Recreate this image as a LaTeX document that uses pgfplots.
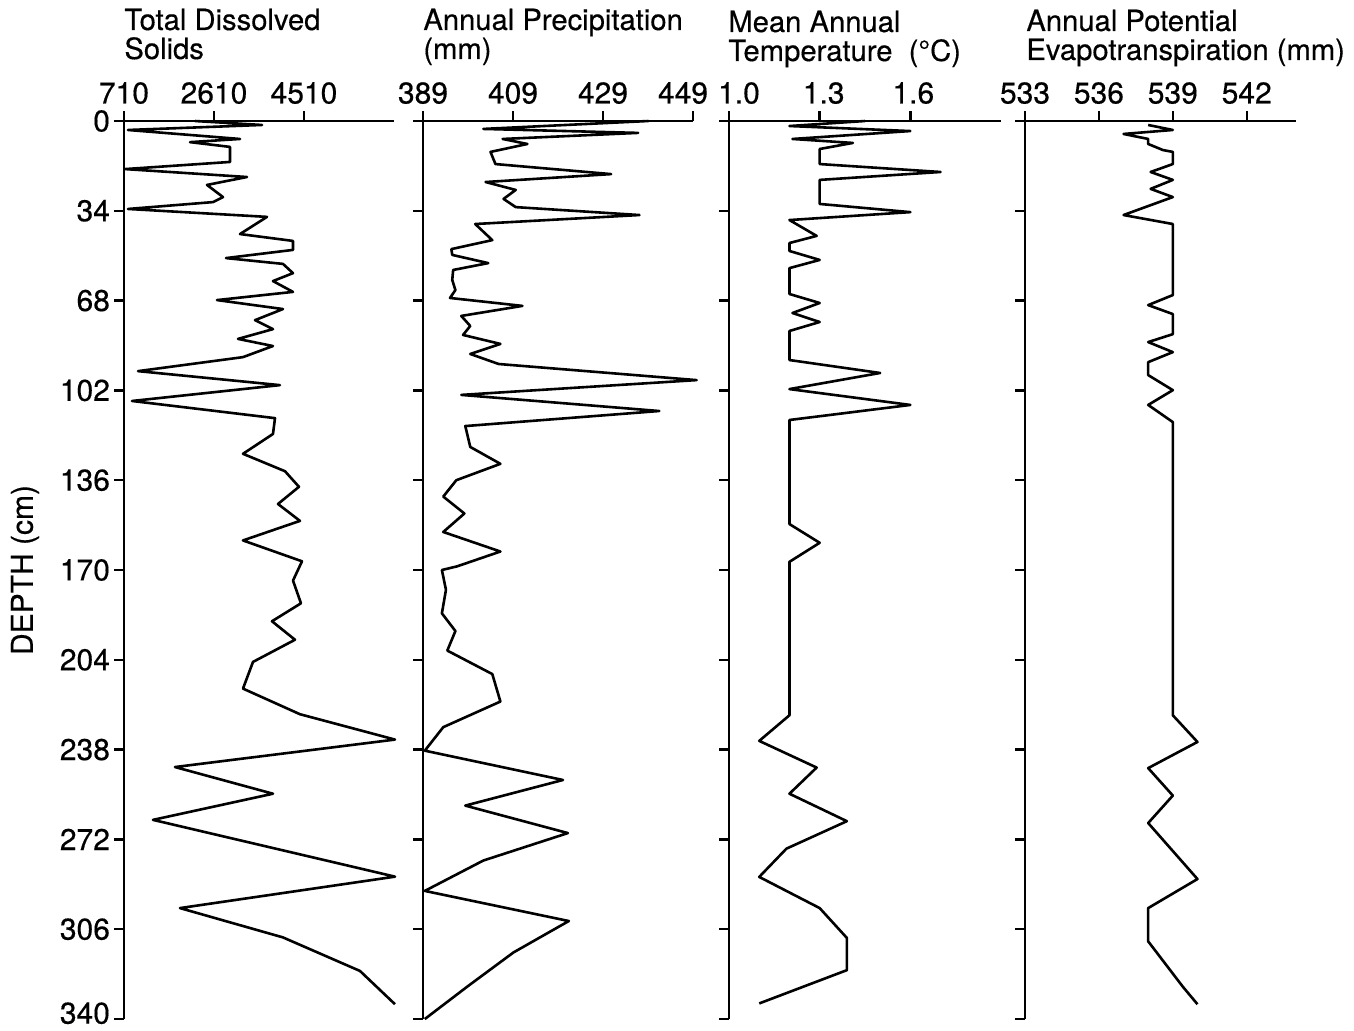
\documentclass[border=0pt]{standalone}
\usepackage{fontspec}
\setmainfont{TeX Gyre Heros}[FakeBold=0.4]
\usepackage{pgfplots}
\pgfplotsset{compat=1.18}

\newcommand{\ttl}{\fontsize{14.6}{15}\selectfont}
\newcommand{\tkl}{\fontsize{15}{15}\selectfont}

\pgfplotsset{
  core/.style={
    scale only axis, height=449pt,
    ymin=0, ymax=340, y dir=reverse,
    axis x line*=top, axis y line*=left,
    axis line style={line width=1.2pt, -},
    tick align=outside,
    major tick length=5pt,
    every tick/.style={line width=1.2pt, black},
    ytick={0,34,68,102,136,170,204,238,272,306,340},
    yticklabels={},
    tick label style={font=\tkl},
    yticklabel style={xshift=1.5pt, inner ysep=0pt},
    clip=false,
    enlargelimits=false,
  },
  trace/.style={black, line width=1.3pt, line join=round, mark=none},
}

\begin{document}
\begin{tikzpicture}[x=1pt,y=1pt]
\useasboundingbox (0,-1.5) rectangle (677,513.5);

% Total dissolved solids
\begin{axis}[core, at={(62pt,453pt)}, anchor=north west, width=135pt,
  xmin=710, xmax=6410, xtick={710,2610,4510}, xticklabels={710,2610,4510},
  yticklabels={0,34,68,102,136,170,204,238,272,306,\raisebox{3pt}[\height][0pt]{340}}]
\addplot[trace] coordinates {
(2209,0) (3623,1.5) (794,3.4) (3159,6.8) (2103,8.0) (2948,9.8) (2948,15.5)
(731,18.2) (3307,21.2) (2462,24.2) (2800,28.8) (2589,30.7) (794,33.3)
(3729,36.3) (3159,42.8) (4278,45.4) (4278,48.8) (2863,51.9) (4066,54.1)
(4278,57.6) (3855,60.6) (4278,64.7) (2673,67.8) (4066,71.2) (3475,75.4)
(3855,78.8) (3117,82.5) (3855,85.2) (3222,89.4) (1006,94.7) (4003,100.0)
(879,106.0) (3898,112.5) (3855,118.5) (3222,126) (4109,132.6) (4404,138.5)
(3961,145) (4425,151.4) (3222,158.8) (4468,166.7) (4278,174) (4446,182.6)
(3834,189.4) (4320,196.4) (3433,204.8) (3222,214.9) (4425,224.6) (6431,234.2)
(1787,244.6) (3855,254.7) (1322,264.6) (6431,286.1) (1892,298) (4066,309.1)
(5692,321.8) (6431,334.4)
};
\end{axis}

% Annual precipitation
\begin{axis}[core, at={(211.5pt,453pt)}, anchor=north west, width=135pt,
  xmin=389, xmax=449, xtick={389,409,429,449},
  xticklabels={389,409,429,449\hspace*{10pt}}]
\addplot[trace] coordinates {
(439.1,0) (402.4,3.0) (436.8,4.5) (406.7,6.8) (412.2,8.7) (404.0,11.7)
(405.1,16.3) (430.8,20.1) (402.9,23.1) (409.6,26.1) (406.9,29.5) (409.6,32.6)
(437.1,35.6) (400.6,39.0) (404.4,45.1) (395.3,48.5) (395.5,50.7) (403.5,53.8)
(395.7,56.4) (395.5,60.2) (396.2,64.0) (395.0,67.0) (411.1,70.0) (397.5,73.8)
(399.5,77.6) (397.9,81.0) (406.2,84.4) (399.5,88.2) (405.8,92.0) (449.8,98.1)
(397.5,103.7) (441.5,109.8) (398.4,115.5) (399.5,123.4) (406.2,129.8)
(396.4,136) (393.5,142.2) (398.2,148.6) (393.5,155.6) (406.2,163)
(396.6,168.6) (393.2,170) (394.1,177.5) (393.2,186.4) (396.2,193.1)
(394.4,200.5) (404.4,209.4) (406.2,219.8) (393.5,229.5) (389.4,238.4)
(420.1,249.5) (398.4,259.2) (421.2,269.6) (402.4,280) (389.4,291.5)
(421.4,302.9) (409.1,314.8) (399.1,327.4) (389.4,340)
};
\end{axis}

% Mean annual temperature
\begin{axis}[core, at={(364.5pt,453pt)}, anchor=north west, width=136pt,
  xmin=1.0, xmax=1.9, xtick={1.0,1.3,1.6},
  xticklabels={\hspace*{10pt}1.0,\hspace*{4pt}1.3,\hspace*{3pt}1.6}]
\addplot[trace] coordinates {
(1.45,0) (1.20,1.9) (1.60,3.8) (1.21,6.8) (1.41,8.3) (1.30,10.6) (1.30,16.3)
(1.70,19.3) (1.30,22.3) (1.30,31.4) (1.60,34.5) (1.20,37.5) (1.29,43.5)
(1.20,46.2) (1.20,49.2) (1.30,52.6) (1.20,55.7) (1.20,65.5) (1.30,68.9)
(1.21,72.7) (1.30,76.1) (1.20,79.5) (1.20,90.5) (1.50,95.4) (1.20,101.5)
(1.60,107.5) (1.20,113.2) (1.20,152.6) (1.30,159.7) (1.20,166.9) (1.20,225)
(1.10,234.7) (1.29,244.8) (1.20,254.7) (1.39,265.1) (1.19,275.5) (1.10,286.2)
(1.30,298.0) (1.39,309.3) (1.39,321.5) (1.10,334.1)
};
\end{axis}

% Annual potential evapotranspiration
\begin{axis}[core, at={(512.5pt,453pt)}, anchor=north west, width=135.5pt,
  xmin=533, xmax=544, xtick={533,536,539,542}, xticklabels={533,536,539,542}]
\addplot[trace] coordinates {
(538.0,1.5) (539,3.4) (537,4.9) (538,6.8) (538,8.7) (538.6,11) (539,11.7)
(539,16.3) (538.1,19.3) (539,22.3) (538.1,25.7) (539,28.8) (537,35.6)
(539,39) (539,65.9) (538,69.7) (539,73.1) (539,80.7) (538,83.7) (539,87.5)
(538,91.3) (538,96.2) (539,101.9) (538,107.5) (539,114) (539,225)
(540,235.1) (538,245) (539,255.4) (538,265.8) (540,287) (538,298)
(538,310.6) (539.4,327.7) (540,334.4)
};
\end{axis}

% panel headings
\node[anchor=base west, font=\ttl, inner sep=0] at (62,498.5) {Total Dissolved};
\node[anchor=base west, font=\ttl, inner sep=0] at (62,484) {Solids};
\node[anchor=base west, font=\ttl, inner sep=0] at (211.5,498.5) {Annual Precipitation};
\node[anchor=base west, font=\ttl, inner sep=0] at (211.5,484) {(mm)};
\node[anchor=base west, font=\ttl, inner sep=0] at (364,497.5) {Mean Annual};
\node[anchor=base west, font=\ttl, inner sep=0] at (364,483) {Temperature\ \ (°C)};
\node[anchor=base west, font=\ttl, inner sep=0] at (513,498) {Annual Potential};
\node[anchor=base west, font=\ttl, inner sep=0] at (513,483.5) {Evapotranspiration (mm)};

\node[rotate=90, font=\tkl] at (12.5,228.5) {DEPTH (cm)};
\end{tikzpicture}
\end{document}
